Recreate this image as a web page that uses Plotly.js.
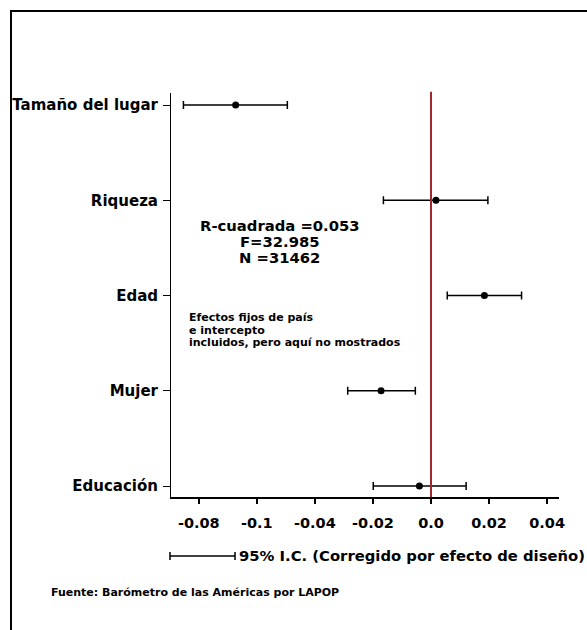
<!DOCTYPE html>
<html>
<head>
<meta charset="utf-8">
<script src="https://cdn.plot.ly/plotly-3.0.1.min.js"></script>
<style>
  html, body { margin: 0; padding: 0; background: #fff; }
  #wrap { position: relative; width: 587px; height: 630px; }
  #chart { position: absolute; left: 0; top: 0; width: 587px; height: 630px; }
  #frame { position: absolute; left: 10px; top: 10px; width: 577px; height: 620px;
           border-left: 2px solid #000; border-top: 2px solid #000; box-sizing: border-box; pointer-events: none; }
</style>
</head>
<body>
<div id="wrap">
  <div id="chart"></div>
  <div id="frame"></div>
</div>
<script>
// Data
const categories = ['Tamaño del lugar', 'Riqueza', 'Edad', 'Mujer', 'Educación'];
const coefficients = [-0.0673, 0.0017, 0.0184, -0.0172, -0.0040];
const ciLow = [-0.0853, -0.0164, 0.0056, -0.0287, -0.0199];
const ciHigh = [-0.0495, 0.0196, 0.0312, -0.0054, 0.0121];
const tickValues = [-0.08, -0.06, -0.04, -0.02, 0, 0.02, 0.04];
const tickLabels = ['-0.08', '-0.1', '-0.04', '-0.02', '0.0', '0.02', '0.04'];
const statsLines = ['R-cuadrada =0.053', 'F=32.985', 'N =31462'];
const noteLines = ['Efectos fijos de país', 'e intercepto', 'incluidos, pero aquí no mostrados'];
const legendText = '95% I.C. (Corregido por efecto de diseño)';
const sourceText = 'Fuente: Barómetro de las Américas por LAPOP';

const FONT = 'DejaVu Sans, Liberation Sans, Arial, sans-serif';

const trace = {
  type: 'scatter',
  mode: 'markers',
  x: coefficients,
  y: categories,
  marker: { color: '#000', size: 7 },
  error_x: {
    type: 'data',
    symmetric: false,
    array: ciHigh.map((h, i) => h - coefficients[i]),
    arrayminus: ciLow.map((l, i) => coefficients[i] - l),
    color: '#000',
    thickness: 1.5,
    width: 4
  },
  showlegend: false,
  hoverinfo: 'skip'
};

const annotations = [];
const statsY = [0.6708, 0.6312, 0.5916];
statsLines.forEach((t, i) => annotations.push({
  xref: 'paper', yref: 'paper', x: 0.2809, y: statsY[i],
  xanchor: 'center', yanchor: 'middle', showarrow: false,
  text: '<b>' + t + '</b>', font: { family: FONT, size: 14.8, color: '#000' }
}));
const noteY = [0.4431, 0.4121, 0.3812];
noteLines.forEach((t, i) => annotations.push({
  xref: 'paper', yref: 'paper', x: 0.0412, y: noteY[i],
  xanchor: 'left', yanchor: 'middle', showarrow: false,
  text: '<b>' + t + '</b>', font: { family: FONT, size: 11, color: '#000' }
}));
annotations.push({
  xref: 'paper', yref: 'paper', x: 0.1701, y: -0.146,
  xanchor: 'left', yanchor: 'middle', showarrow: false,
  text: '<b>' + legendText + '</b>', font: { family: FONT, size: 14.8, color: '#000' }
});
annotations.push({
  xref: 'paper', yref: 'paper', x: -0.3144, y: -0.2376,
  xanchor: 'left', yanchor: 'middle', showarrow: false,
  text: '<b>' + sourceText + '</b>', font: { family: FONT, size: 11, color: '#000' }
});

const shapes = [
  // zero reference line
  { type: 'line', xref: 'x', yref: 'paper', x0: 0, x1: 0, y0: 0, y1: 1.003,
    line: { color: '#a3282e', width: 2 } },
  // legend sample of the confidence interval
  { type: 'line', xref: 'paper', yref: 'paper', x0: -0.0026, x1: 0.165, y0: -0.146, y1: -0.146,
    line: { color: '#000', width: 1.5 } },
  { type: 'line', xref: 'paper', yref: 'paper', x0: -0.0026, x1: -0.0026, y0: -0.136, y1: -0.156,
    line: { color: '#000', width: 1.5 } },
  { type: 'line', xref: 'paper', yref: 'paper', x0: 0.165, x1: 0.165, y0: -0.136, y1: -0.156,
    line: { color: '#000', width: 1.5 } }
];

const layout = {
  width: 587, height: 630,
  margin: { l: 171, r: 28, t: 93, b: 133, pad: 0 },
  paper_bgcolor: '#fff', plot_bgcolor: '#fff',
  font: { family: FONT, color: '#000' },
  xaxis: {
    range: [-0.08958, 0.0441],
    tickvals: tickValues, ticktext: tickLabels,
    showgrid: false, zeroline: false,
    showline: true, linecolor: '#000', linewidth: 1.5,
    ticks: 'outside', ticklen: 5, tickwidth: 1.5, tickcolor: '#000',
    ticklabelstandoff: 7,
    tickfont: { family: FONT, size: 14.5, color: '#000', weight: 'bold' }
  },
  yaxis: {
    type: 'category',
    categoryorder: 'array',
    categoryarray: categories.slice().reverse(),
    range: [-0.115, 4.126],
    showgrid: false, zeroline: false,
    showline: true, linecolor: '#000', linewidth: 1,
    ticks: 'outside', ticklen: 7, tickwidth: 1, tickcolor: '#000',
    ticklabelstandoff: 2,
    tickfont: { family: FONT, size: 15, color: '#000', weight: 'bold' }
  },
  annotations: annotations,
  shapes: shapes,
  showlegend: false
};

Plotly.newPlot('chart', [trace], layout, { displayModeBar: false, staticPlot: true });
</script>
</body>
</html>
